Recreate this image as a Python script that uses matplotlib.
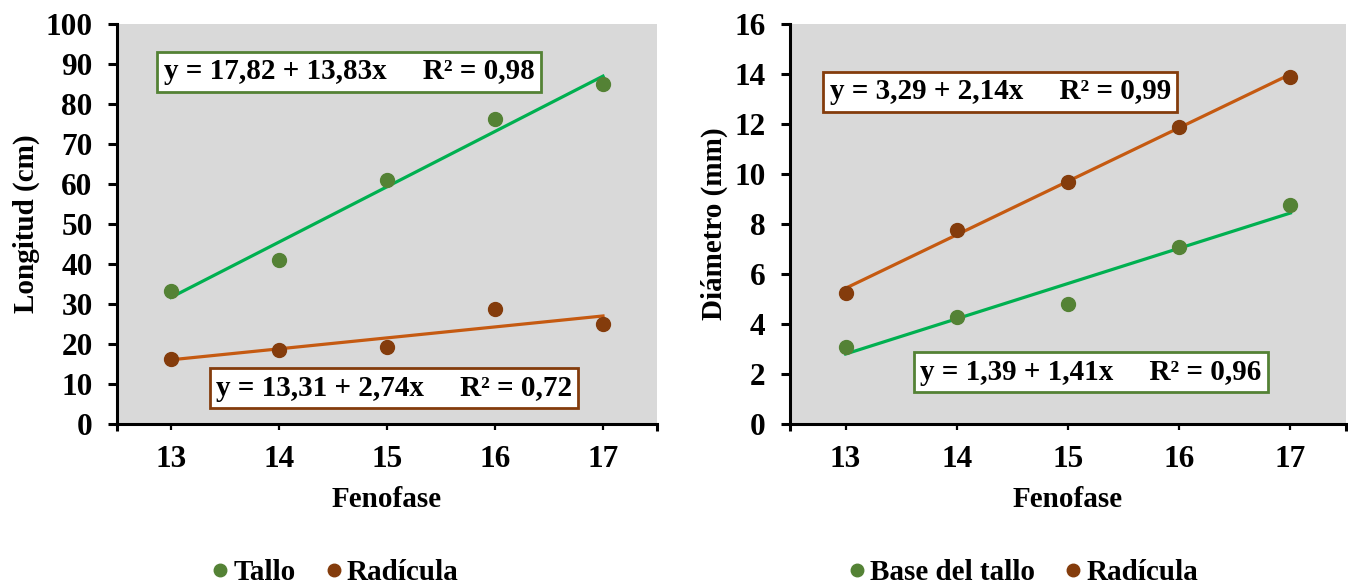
import matplotlib
matplotlib.use("Agg")
import matplotlib.pyplot as plt
from matplotlib.lines import Line2D
import numpy as np

# ---- data ----
fenofase = [13, 14, 15, 16, 17]
tallo_long = [33.3, 41.0, 61.0, 76.2, 85.0]
radicula_long = [16.3, 18.5, 19.2, 28.7, 25.0]
base_tallo_diam = [3.1, 4.3, 4.8, 7.1, 8.75]
radicula_diam = [5.25, 7.78, 9.7, 11.88, 13.87]

# trend equations: y = a + b*x, x = 1..5 (order of phenophase)
tallo_fit = (17.82, 13.83)
radicula_long_fit = (13.31, 2.74)
base_fit = (1.39, 1.41)
radicula_diam_fit = (3.29, 2.14)

eq_tallo = "y = 17,82 + 13,83x     R² = 0,98"
eq_rad_long = "y = 13,31 + 2,74x     R² = 0,72"
eq_rad_diam = "y = 3,29 + 2,14x     R² = 0,99"
eq_base = "y = 1,39 + 1,41x     R² = 0,96"

# ---- style ----
plt.rcParams['font.family'] = ['Liberation Serif', 'DejaVu Serif']
plt.rcParams['font.weight'] = 'bold'
FS = 21
FS_TICK = 22.5
GREEN_M = '#548235'
BROWN_M = '#843c0c'
GREEN_L = '#00b050'
ORANGE_L = '#c55a11'
BG = '#d9d9d9'

fig = plt.figure(figsize=(13.48, 5.85), dpi=100)
axL = fig.add_axes([117/1348, 1-424/585, 540/1348, 400/585])
axR = fig.add_axes([790/1348, 1-424/585, 556/1348, 400/585])

def style(ax, ymax, ystep):
    ax.set_facecolor(BG)
    ax.set_xlim(12.5, 17.5)
    ax.set_ylim(0, ymax)
    ax.set_yticks(np.arange(0, ymax + ystep/2, ystep))
    ax.set_xticks(fenofase)
    ax.set_xticks([12.5, 17.5], minor=True)
    for s in ['top', 'right']:
        ax.spines[s].set_visible(False)
    for s in ['left', 'bottom']:
        ax.spines[s].set_linewidth(2.2)
    ax.tick_params(axis='y', direction='out', length=6.5, width=2.2, pad=11,
                   labelsize=FS_TICK)
    ax.tick_params(axis='x', which='major', direction='out', length=4, width=1.6,
                   pad=11, labelsize=FS_TICK)
    ax.tick_params(axis='x', which='minor', direction='out', length=5, width=2.2)
    for lab in ax.get_xticklabels() + ax.get_yticklabels():
        lab.set_fontweight('bold')
    ax.set_xlabel('Fenofase', fontsize=FS, fontweight='bold')
    ax.xaxis.set_label_coords(0.5, -0.155)

def trend(ax, fit, color):
    idx = np.arange(1, len(fenofase) + 1)
    y = fit[0] + fit[1] * idx
    ax.plot(fenofase, y, color=color, lw=2.3, zorder=2)

def eqbox(ax, txt, x, y, ec):
    ax.text(x, y, txt, transform=ax.transAxes, ha='center', va='center',
            fontsize=FS, fontweight='bold', zorder=5,
            bbox=dict(boxstyle='square,pad=0.22', fc='white', ec=ec, lw=2))

# left chart
style(axL, 100, 10)
trend(axL, tallo_fit, GREEN_L)
trend(axL, radicula_long_fit, ORANGE_L)
axL.plot(fenofase, tallo_long, 'o', color=GREEN_M, ms=10, zorder=3)
axL.plot(fenofase, radicula_long, 'o', color=BROWN_M, ms=10, zorder=3)
axL.set_ylabel('Longitud (cm)', fontsize=FS, fontweight='bold')
axL.yaxis.set_label_coords(-0.143, 0.5)
eqbox(axL, eq_tallo, 0.43, 0.881, GREEN_M)
eqbox(axL, eq_rad_long, 0.513, 0.09, BROWN_M)

# right chart
style(axR, 16, 2)
trend(axR, radicula_diam_fit, ORANGE_L)
trend(axR, base_fit, GREEN_L)
axR.plot(fenofase, base_tallo_diam, 'o', color=GREEN_M, ms=10, zorder=3)
axR.plot(fenofase, radicula_diam, 'o', color=BROWN_M, ms=10, zorder=3)
axR.set_ylabel('Diámetro (mm)', fontsize=FS, fontweight='bold')
axR.yaxis.set_label_coords(-0.111, 0.5)
eqbox(axR, eq_rad_diam, 0.378, 0.831, BROWN_M)
eqbox(axR, eq_base, 0.541, 0.129, GREEN_M)

def legend(labels, colors, xc):
    handles = [Line2D([], [], ls='none', marker='o', ms=9, color=c) for c in colors]
    fig.legend(handles, labels, loc='center', bbox_to_anchor=(xc, 1-573/585),
               ncol=2, frameon=False, handlelength=0.6,
               handletextpad=0.15, columnspacing=1.0,
               prop={'weight': 'bold', 'size': FS})

legend(['Tallo', 'Radícula'], [GREEN_M, BROWN_M], 335/1348)
legend(['Base del tallo', 'Radícula'], [GREEN_M, BROWN_M], 1023/1348)

fig.savefig('out.png', dpi=100)
